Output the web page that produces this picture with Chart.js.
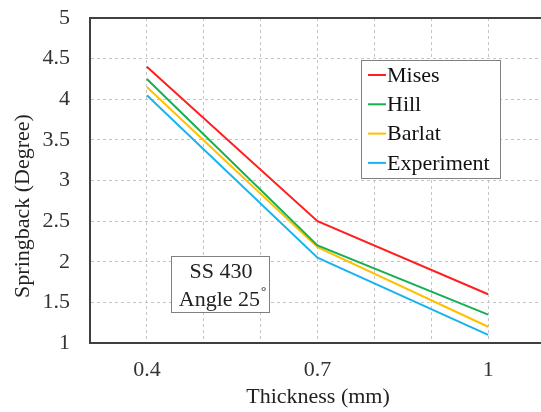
<!DOCTYPE html>
<html>
<head>
<meta charset="utf-8">
<script src="https://cdn.jsdelivr.net/npm/chart.js@4.4.1/dist/chart.umd.min.js"></script>
<style>
  html, body { margin: 0; padding: 0; background: #fff; overflow: hidden; }
  canvas { display: block; }
</style>
</head>
<body>
<canvas id="myChart" width="545" height="412"></canvas>
<script>
const thickness = [0.4, 0.7, 1];
const xTickLabels = ["0.4", "0.7", "1"];
const mises = [4.4, 2.5, 1.6];
const hill = [4.25, 2.2, 1.35];
const barlat = [4.15, 2.18, 1.2];
const experiment = [4.05, 2.05, 1.1];
const seriesNames = ["Mises", "Hill", "Barlat", "Experiment"];
const seriesColors = ["#ff1f1f", "#16b050", "#ffc000", "#19b4f0"];

const serif = "'Liberation Serif', 'Times New Roman', serif";

function toPoints(values) {
    return values.map((v, i) => ({ x: thickness[i], y: v }));
}

const allSeries = [mises, hill, barlat, experiment];

const extras = {
    id: "extras",
    afterDraw(chart) {
        const ctx = chart.ctx;
        const a = chart.chartArea;
        ctx.save();

        // top border
        ctx.strokeStyle = "#404040";
        ctx.lineWidth = 2;
        ctx.beginPath();
        ctx.moveTo(a.left - 1, a.top);
        ctx.lineTo(a.right, a.top);
        ctx.stroke();

        // axis titles
        ctx.fillStyle = "#222";
        ctx.font = "22px " + serif;
        ctx.textAlign = "center";
        ctx.textBaseline = "middle";
        ctx.fillText("Thickness (mm)", 318, 397);
        ctx.save();
        ctx.translate(23, 206);
        ctx.rotate(-Math.PI / 2);
        ctx.fillText("Springback (Degree)", 0, 0);
        ctx.restore();

        // legend
        ctx.fillStyle = "#fff";
        ctx.fillRect(361, 60, 139, 118);
        ctx.strokeStyle = "#808080";
        ctx.lineWidth = 1;
        ctx.strokeRect(361.5, 60.5, 139, 118);
        ctx.textAlign = "left";
        seriesNames.forEach((name, i) => {
            const y = 75 + i * 29.3;
            ctx.strokeStyle = seriesColors[i];
            ctx.lineWidth = 2;
            ctx.beginPath();
            ctx.moveTo(368, y);
            ctx.lineTo(386, y);
            ctx.stroke();
            ctx.fillStyle = "#111";
            ctx.fillText(name, 387, y + 1);
        });

        // annotation box
        ctx.fillStyle = "#fff";
        ctx.fillRect(171, 256, 98, 56);
        ctx.strokeStyle = "#808080";
        ctx.lineWidth = 1;
        ctx.strokeRect(171.5, 256.5, 98, 56);
        ctx.fillStyle = "#222";
        ctx.textAlign = "center";
        ctx.fillText("SS 430", 221, 272);
        const main = "Angle 25";
        ctx.font = "22px " + serif;
        const w1 = ctx.measureText(main).width;
        ctx.font = "13px " + serif;
        const w2 = ctx.measureText("°").width;
        const start = 222 - (w1 + w2) / 2;
        ctx.textAlign = "left";
        ctx.font = "22px " + serif;
        ctx.fillText(main, start, 300);
        ctx.font = "13px " + serif;
        ctx.fillText("°", start + w1 + 1, 292);

        ctx.restore();
    }
};

const ctx = document.getElementById("myChart").getContext("2d");
new Chart(ctx, {
    type: "line",
    data: {
        datasets: allSeries.map((vals, i) => ({
            label: seriesNames[i],
            data: toPoints(vals),
            borderColor: seriesColors[i],
            backgroundColor: seriesColors[i],
            borderWidth: 2,
            pointRadius: 0,
            tension: 0
        }))
    },
    options: {
        responsive: false,
        animation: false,
        layout: { padding: { top: 18, right: 0, left: 0, bottom: 0 } },
        plugins: {
            legend: { display: false },
            tooltip: { enabled: false }
        },
        scales: {
            x: {
                type: "linear",
                min: 0.3,
                max: 1.1,
                afterFit(scale) {
                    scale.height = 69;
                    scale.paddingRight = 0;
                    scale.paddingLeft = 0;
                },
                afterBuildTicks(scale) {
                    scale.ticks = [];
                    for (let i = 3; i <= 11; i++) scale.ticks.push({ value: i / 10 });
                },
                ticks: {
                    autoSkip: false,
                    maxRotation: 0,
                    padding: 14,
                    color: "#333",
                    font: { family: serif, size: 22 },
                    callback(value) {
                        const idx = thickness.findIndex(t => Math.abs(t - value) < 1e-6);
                        return idx >= 0 ? xTickLabels[idx] : "";
                    }
                },
                grid: { color: "#c4c4c4", lineWidth: 1, drawTicks: false },
                border: { display: true, color: "#404040", width: 2, dash: [3, 3] }
            },
            y: {
                min: 1,
                max: 5,
                afterFit(scale) {
                    scale.width = 90;
                    scale.paddingTop = 0;
                    scale.paddingBottom = 0;
                },
                ticks: {
                    stepSize: 0.5,
                    padding: 20,
                    color: "#333",
                    font: { family: serif, size: 22 },
                    callback(value) { return String(+value.toFixed(1)); }
                },
                grid: { color: "#c4c4c4", lineWidth: 1, drawTicks: false },
                border: { display: true, color: "#404040", width: 2, dash: [3, 3] }
            }
        }
    },
    plugins: [extras]
});
</script>
</body>
</html>
